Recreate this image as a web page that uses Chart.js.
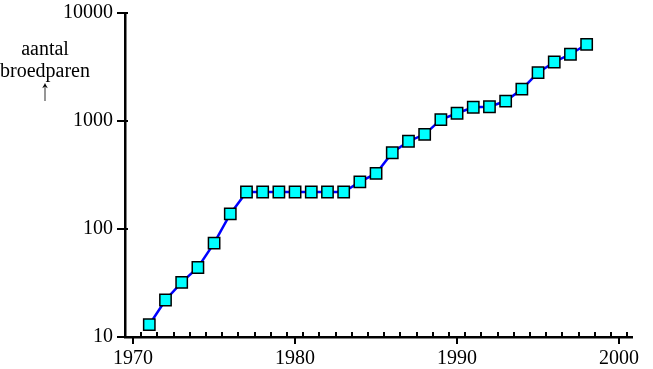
<!DOCTYPE html>
<html>
<head>
<meta charset="utf-8">
<script src="https://cdn.jsdelivr.net/npm/chart.js@4/dist/chart.umd.min.js"></script>
<style>
  body { margin: 0; background: #fff; }
  #wrap { width: 653px; height: 369px; }
</style>
</head>
<body>
<div id="wrap"><canvas id="myChart"></canvas></div>
<script>
var years = [1971,1972,1973,1974,1975,1976,1977,1978,1979,1980,1981,1982,1983,1984,1985,
             1986,1987,1988,1989,1990,1991,1992,1993,1994,1995,1996,1997,1998];
var pairs = [13,22,32,44,74,138,220,220,220,220,220,220,220,273,327,
             508,649,753,1030,1180,1340,1355,1530,1970,2800,3520,4150,5130];
var xTicks = [1970,1980,1990,2000];
var yTicks = [10,100,1000,10000];
var yLabel = ["aantal","broedparen","\u2191"];

var font = "Liberation Serif";

var points = years.map(function (y, i) { return {x: y, y: pairs[i]}; });

// eigen streepjes op de assen
var tickMarks = {
  id: "tickMarks",
  afterDraw: function (chart) {
    var ctx = chart.ctx;
    var xs = chart.scales.x, ys = chart.scales.y;
    var area = chart.chartArea;
    ctx.save();
    ctx.strokeStyle = "#000";
    ctx.lineWidth = 2;
    ctx.beginPath();
    // kleine streepjes omhoog, op halve jaren
    for (var v = xs.min + 1; v < xs.max; v++) {
      var px = Math.round(xs.getPixelForValue(v));
      ctx.moveTo(px, area.bottom);
      ctx.lineTo(px, area.bottom - 5);
    }
    // grote streepjes omlaag
    xTicks.forEach(function (t) {
      var px = Math.round(xs.getPixelForValue(t));
      ctx.moveTo(px, area.bottom);
      ctx.lineTo(px, area.bottom + 7);
    });
    // y streepjes door de as heen
    yTicks.forEach(function (t) {
      var py = Math.round(ys.getPixelForValue(t));
      ctx.moveTo(area.left - 8, py);
      ctx.lineTo(area.left + 3, py);
    });
    ctx.stroke();

    ctx.fillStyle = "#000";
    ctx.font = "20px '" + font + "'";
    ctx.textAlign = "center";
    ctx.textBaseline = "alphabetic";
    ctx.fillText(yLabel[0], 45, 55);
    ctx.fillText(yLabel[1], 45, 77);
    // pijl wat uitgerekt
    ctx.translate(45, 100);
    ctx.scale(1, 1.5);
    ctx.fillText(yLabel[2], 0, 0);
    ctx.restore();
  }
};

new Chart("myChart", {
  type: "line",
  data: {
    datasets: [{
      data: points,
      borderColor: "#0000ff",
      borderWidth: 2.5,
      tension: 0,
      pointStyle: "rect",
      pointRadius: 8,
      pointBackgroundColor: "#00ffff",
      pointBorderColor: "#000",
      pointBorderWidth: 1.5
    }]
  },
  options: {
    responsive: true,
    maintainAspectRatio: false,
    animation: false,
    events: [],
    layout: { padding: { top: 13, right: 21, left: 0, bottom: 0 } },
    plugins: { legend: { display: false }, tooltip: { enabled: false } },
    scales: {
      x: {
        type: "linear",
        min: 1969.5,
        max: 2000.8,
        grid: { display: false, drawTicks: false },
        border: { display: true, color: "#000", width: 2.5 },
        afterBuildTicks: function (s) { s.ticks = xTicks.map(function (v) { return {value: v}; }); },
        afterFit: function (s) { s.height = 32; s.paddingLeft = 0; s.paddingRight = 0; },
        ticks: {
          color: "#000", padding: 10, maxRotation: 0, font: { family: font, size: 20 },
          callback: function (v) { return String(v); }
        }
      },
      y: {
        type: "logarithmic",
        min: 10,
        max: 10000,
        grid: { display: false, drawTicks: false },
        border: { display: true, color: "#000", width: 2.5 },
        afterBuildTicks: function (s) { s.ticks = yTicks.map(function (v) { return {value: v}; }); },
        afterFit: function (s) { s.width = 125; s.paddingTop = 0; s.paddingBottom = 0; },
        ticks: {
          color: "#000", padding: 12, font: { family: font, size: 20 },
          callback: function (v) { return String(v); }
        }
      }
    }
  },
  plugins: [tickMarks]
});
</script>
</body>
</html>
